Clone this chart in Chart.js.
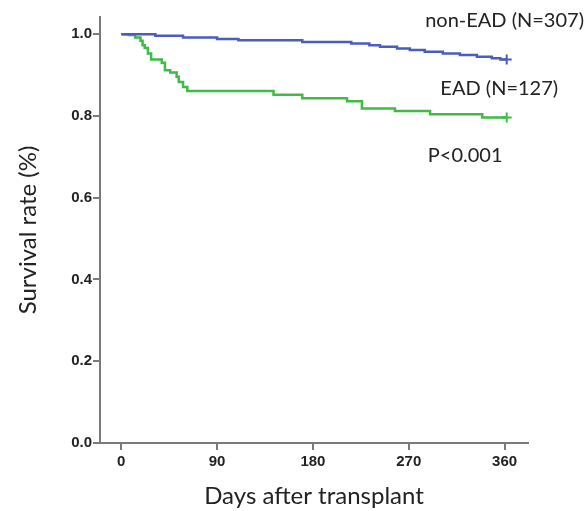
<!DOCTYPE html>
<html>
<head>
<meta charset="utf-8">
<script src="https://cdn.jsdelivr.net/npm/chart.js@4.4.1/dist/chart.umd.min.js"></script>
<style>
  html, body { margin: 0; padding: 0; background: #ffffff; }
  canvas { display: block; }
</style>
</head>
<body>
<canvas id="c" width="586" height="511"></canvas>
<script>
// ---- data ----
const xTicks = [0, 90, 180, 270, 360];
const yTicks = [0, 0.2, 0.4, 0.6, 0.8, 1.0];

const nonEadLabel = "non-EAD (N=307)";
const nonEadDays = [0, 32, 58, 90, 110, 170, 216, 233, 243, 259, 271, 285, 302, 318, 334, 348, 356, 362];
const nonEadSurv = [1.0, 0.996, 0.992, 0.988, 0.985, 0.981, 0.977, 0.973, 0.969, 0.965, 0.961, 0.957, 0.953, 0.949, 0.945, 0.941, 0.938, 0.938];

const eadLabel = "EAD (N=127)";
const eadDays = [0, 7, 13, 18, 20, 22, 25, 28, 38, 41, 46, 52, 54, 58, 62, 143, 170, 212, 226, 257, 290, 339, 362];
const eadSurv = [1.0, 0.998, 0.992, 0.984, 0.973, 0.966, 0.953, 0.938, 0.930, 0.912, 0.906, 0.896, 0.883, 0.871, 0.861, 0.852, 0.843, 0.836, 0.818, 0.812, 0.804, 0.796, 0.796];

const pValueText = "P<0.001";
// annotation anchors in data units: [day, survival]
const noteNonEad = [360, 1.034];
const noteEad = [355, 0.868];
const noteP = [323, 0.704];

const xTitle = "Days after transplant";
const yTitle = "Survival rate (%)";

// ---- build ----
function toPoints(xs, ys) { return xs.map((x, i) => ({ x: x, y: ys[i] })); }
function lastOnly(r) { return (ctx) => ctx.dataIndex === ctx.dataset.data.length - 1 ? r : 0; }

const annotationPlugin = {
  id: 'notes',
  afterDatasetsDraw(chart) {
    const { ctx, scales: { x, y } } = chart;
    ctx.save();
    ctx.fillStyle = '#222';
    ctx.font = '20px Lato';
    ctx.textAlign = 'center';
    ctx.textBaseline = 'middle';
    [[nonEadLabel, noteNonEad], [eadLabel, noteEad], [pValueText, noteP]].forEach(([t, p]) => {
      ctx.fillText(t, x.getPixelForValue(p[0]), y.getPixelForValue(p[1]));
    });
    ctx.restore();
  }
};

const axisColor = '#7a7a7a';
const tickFont = { family: 'Liberation Sans', size: 15, weight: 'bold' };

new Chart(document.getElementById('c'), {
  type: 'line',
  data: {
    datasets: [
      {
        label: nonEadLabel,
        data: toPoints(nonEadDays, nonEadSurv),
        borderColor: '#4a5cc0',
        borderWidth: 2.5,
        stepped: true,
        pointStyle: 'cross',
        pointRadius: lastOnly(5),
        pointBorderColor: '#4a5cc0',
        pointBorderWidth: 2,
        fill: false
      },
      {
        label: eadLabel,
        data: toPoints(eadDays, eadSurv),
        borderColor: '#3fbb46',
        borderWidth: 2.5,
        stepped: true,
        pointStyle: 'cross',
        pointRadius: lastOnly(5),
        pointBorderColor: '#3fbb46',
        pointBorderWidth: 2,
        fill: false
      }
    ]
  },
  options: {
    responsive: false,
    animation: false,
    layout: { padding: { left: 0, right: 58, top: 17, bottom: 0 } },
    plugins: { legend: { display: false }, tooltip: { enabled: false } },
    scales: {
      x: {
        type: 'linear',
        min: -20,
        max: 382,
        afterBuildTicks: (s) => { s.ticks = xTicks.map(v => ({ value: v })); },
        afterFit: (s) => { s.height = 68; },
        grid: { drawOnChartArea: false, drawTicks: true, tickLength: 7, color: axisColor, lineWidth: 2 },
        border: { display: true, color: axisColor, width: 2 },
        ticks: { color: '#222', font: tickFont, padding: 3, maxRotation: 0 },
        title: { display: true, text: xTitle, color: '#222', font: { family: 'Lato', size: 24 }, padding: { top: -2, bottom: 0 } }
      },
      y: {
        type: 'linear',
        min: 0,
        max: 1.042,
        afterBuildTicks: (s) => { s.ticks = yTicks.map(v => ({ value: v })); },
        afterFit: (s) => { s.width = 100; },
        grid: { drawOnChartArea: false, drawTicks: true, tickLength: 7, color: axisColor, lineWidth: 2 },
        border: { display: true, color: axisColor, width: 2 },
        ticks: { color: '#222', font: tickFont, padding: 1, callback: (v) => Number(v).toFixed(1) },
        title: { display: true, text: yTitle, color: '#222', font: { family: 'Lato', size: 24 }, padding: { top: 14, bottom: 0 } }
      }
    }
  },
  plugins: [annotationPlugin]
});
</script>
</body>
</html>
